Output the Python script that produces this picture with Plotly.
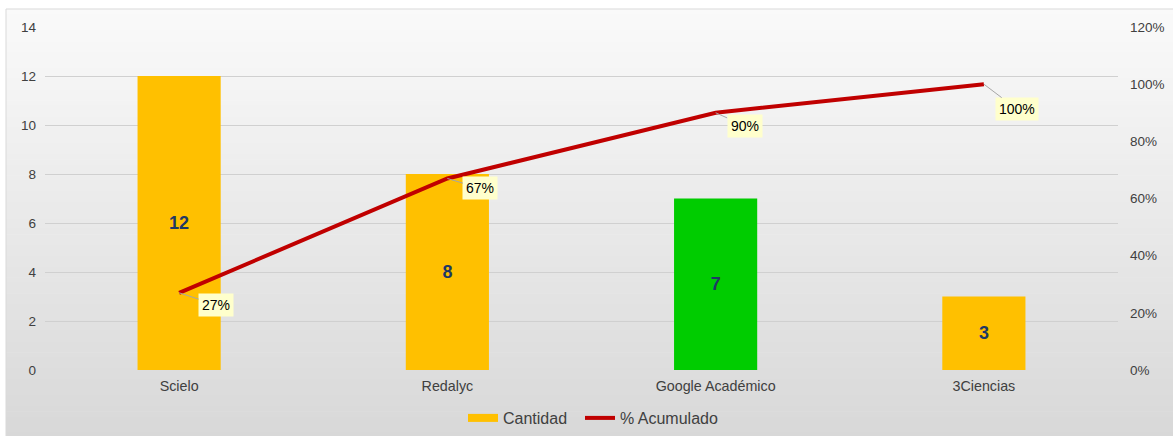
import plotly.graph_objects as go

categories = ["Scielo", "Redalyc", "Google Académico", "3Ciencias"]
cantidad = [12, 8, 7, 3]
acumulado = [0.27, 0.67, 0.90, 1.00]
acum_labels = ["27%", "67%", "90%", "100%"]
bar_colors = ["#FFC000", "#FFC000", "#00CC00", "#FFC000"]
left_ticks = [0, 2, 4, 6, 8, 10, 12, 14]
right_ticks = [0, 0.2, 0.4, 0.6, 0.8, 1.0, 1.2]
right_tick_text = ["0%", "20%", "40%", "60%", "80%", "100%", "120%"]

# label box offsets (pixels) – styling only
label_offsets = [(37, 12), (33, 10), (29, 13), (33, 25)]

W, H = 1173, 436
ML, MR, MT, MB = 45, 55, 27, 66
pw, ph = W - ML - MR, H - MT - MB

def px_to_paper_x(px):
    return (px - ML) / pw

def px_to_paper_y(py):
    return (H - MB - py) / ph

fig = go.Figure()

fig.add_trace(go.Bar(
    x=categories, y=cantidad, name="Cantidad", showlegend=False,
    marker=dict(color=bar_colors, line=dict(width=0)),
    width=0.31,
    text=[str(v) for v in cantidad], textposition="inside",
    insidetextanchor="middle", textangle=0,
    textfont=dict(family="Liberation Sans, Arial", size=18, color="#1F3864", weight="bold"),
    yaxis="y",
))

# legend entry for the bars (wide rectangle swatch)
fig.add_trace(go.Scatter(
    x=[None], y=[None], name="Cantidad", mode="lines",
    line=dict(color="#FFC000", width=8), yaxis="y", legend="legend",
))

fig.add_trace(go.Scatter(
    x=categories, y=acumulado, name="% Acumulado", mode="lines",
    line=dict(color="#C00000", width=4), yaxis="y2", legend="legend2",
))

# gradient background frame
shapes = []
fx0, fx1 = px_to_paper_x(6), px_to_paper_x(W + 2)
top_px, bot_px = 9, H + 2
n = 80
c0, c1 = (250, 250, 250), (216, 216, 216)
for i in range(n):
    t = (i + 0.5) / n
    col = tuple(round(c0[k] + (c1[k] - c0[k]) * t) for k in range(3))
    y_top = top_px + (bot_px - top_px) * i / n
    y_bot = top_px + (bot_px - top_px) * (i + 1) / n + 0.6
    shapes.append(dict(type="rect", xref="paper", yref="paper", layer="below",
                       x0=fx0, x1=fx1, y0=px_to_paper_y(y_bot), y1=px_to_paper_y(y_top),
                       fillcolor="rgb(%d,%d,%d)" % col, line=dict(width=0)))
shapes.append(dict(type="rect", xref="paper", yref="paper", layer="below",
                   x0=fx0, x1=fx1, y0=px_to_paper_y(bot_px), y1=px_to_paper_y(top_px),
                   fillcolor="rgba(0,0,0,0)", line=dict(color="#D9D9D9", width=1)))

annotations = []
for cat, v, lab, (ax, ay) in zip(categories, acumulado, acum_labels, label_offsets):
    annotations.append(dict(
        x=cat, y=v, xref="x", yref="y2", text=lab, showarrow=True,
        ax=ax, ay=ay, arrowhead=0, arrowwidth=1, arrowcolor="#A6A6A6",
        bgcolor="#FFFFCC", borderpad=3,
        font=dict(family="Liberation Sans, Arial", size=14, color="#000000"),
    ))

legend_style = dict(orientation="h", xanchor="left", y=px_to_paper_y(418), yanchor="middle",
                    font=dict(size=16, color="#404040"), bgcolor="rgba(0,0,0,0)")

fig.update_layout(
    width=W, height=H,
    margin=dict(l=ML, r=MR, t=MT, b=MB, autoexpand=False),
    paper_bgcolor="white", plot_bgcolor="rgba(0,0,0,0)",
    font=dict(family="Liberation Sans, Arial", size=13, color="#404040"),
    shapes=shapes,
    annotations=annotations,
    showlegend=True,
    legend=dict(x=px_to_paper_x(463), **legend_style),
    legend2=dict(x=px_to_paper_x(580), **legend_style),
    xaxis=dict(showgrid=False, zeroline=False, showline=False, ticks="",
               tickfont=dict(size=14.3, color="#404040"), ticklabelstandoff=6),
    yaxis=dict(range=[0, 14], tickvals=left_ticks, showgrid=True, gridcolor="#D0D0D0",
               gridwidth=1, zeroline=False, showline=False, ticks="",
               tickfont=dict(size=13.5, color="#404040"), ticklabelstandoff=8),
    yaxis2=dict(range=[0, 1.2], tickvals=right_ticks, ticktext=right_tick_text,
                overlaying="y", side="right", showgrid=False, zeroline=False,
                showline=False, ticks="", tickfont=dict(size=13.5, color="#404040"),
                ticklabelstandoff=11),
)

fig.write_html("out.html", config={"displayModeBar": False},
               post_script="document.body.style.margin='0';")
